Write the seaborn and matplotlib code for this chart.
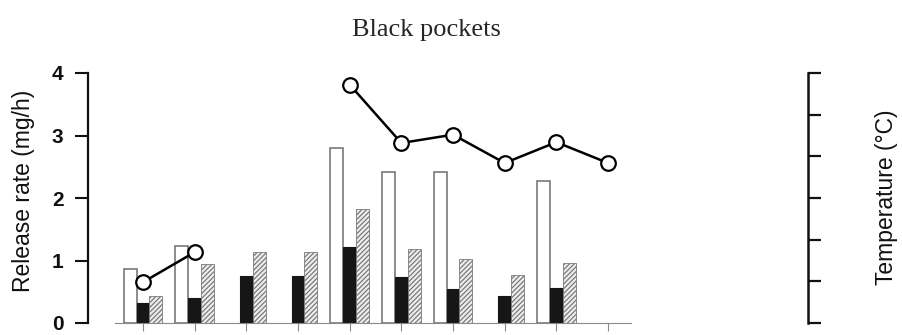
import numpy as np
import pandas as pd
import matplotlib
matplotlib.use("Agg")
import matplotlib.pyplot as plt
import seaborn as sns

nan = np.nan

# Sampling occasions along the x axis
occasions = list(range(1, 11))

# Release rate (mg/h) for the three bar series
open_rate = [0.86, 1.23, nan, nan, 2.80, 2.42, 2.42, nan, 2.27, nan]
solid_rate = [0.32, 0.40, 0.75, 0.75, 1.22, 0.74, 0.54, 0.43, 0.56, nan]
hatched_rate = [0.43, 0.94, 1.13, 1.13, 1.82, 1.18, 1.02, 0.77, 0.96, nan]

# Air temperature (°C) on the right axis
temperature = [4.9, 8.5, nan, nan, 28.6, 21.6, 22.6, 19.2, 21.7, 19.2]

y_ticks = [0, 1, 2, 3, 4]
temp_ticks = [0, 5, 10, 15, 20, 25, 30]

series_names = ["open", "solid", "hatched"]

sns.set_style("ticks")
plt.rcParams["font.family"] = ["Liberation Sans", "DejaVu Sans"]
plt.rcParams["hatch.linewidth"] = 0.9

rows = []
for name, vals in zip(series_names, [open_rate, solid_rate, hatched_rate]):
    for occ, v in zip(occasions, vals):
        if not np.isnan(v):
            rows.append({"occasion": occ, "series": name, "rate": v})
bars = pd.DataFrame(rows)

fig = plt.figure(figsize=(9.02, 3.35), dpi=100)
ax = fig.add_axes([115 / 902, 12 / 335, (808 - 115) / 902, 250 / 335])

sns.barplot(data=bars, x="occasion", y="rate", hue="series",
            order=occasions, hue_order=series_names, width=0.75,
            errorbar=None, legend=False, ax=ax)

styles = {
    "open": dict(facecolor="white", edgecolor="#6e6e6e", lw=1.1, hatch=None),
    "solid": dict(facecolor="#161616", edgecolor="#161616", lw=0.8, hatch=None),
    "hatched": dict(facecolor="#eeeeee", edgecolor="#7a7a7a", lw=0.6, hatch="///////"),
}
for name, cont in zip(series_names, ax.containers):
    st = styles[name]
    for p in cont:
        p.set_facecolor(st["facecolor"])
        p.set_edgecolor(st["edgecolor"])
        p.set_linewidth(st["lw"])
        if st["hatch"]:
            p.set_hatch(st["hatch"])

# Temperature curve on a twin axis; gaps split it into segments
ax2 = ax.twinx()
temp_rows = []
seg = 0
prev_nan = True
for i, t in enumerate(temperature):
    if np.isnan(t):
        prev_nan = True
        continue
    if prev_nan:
        seg += 1
        prev_nan = False
    temp_rows.append({"pos": i, "temp": t, "segment": seg})
temps = pd.DataFrame(temp_rows)
sns.lineplot(data=temps, x="pos", y="temp", units="segment", estimator=None,
             color="black", lw=1.8, marker="o", markersize=10.5,
             markerfacecolor="white", markeredgecolor="black",
             markeredgewidth=1.6, legend=False, ax=ax2)

xl = (-(143 - 115) / 51.67, (808 - 143) / 51.67)
ax.set_xlim(*xl)
ax2.set_xlim(*xl)

ax.set_ylim(0, 4)
ax.set_yticks(y_ticks)
ax.set_xticks(range(len(occasions)))
ax.set_xticklabels([])
ax.set_xlabel("")
ax.set_ylabel("")

for s in ["top", "right"]:
    ax.spines[s].set_visible(False)
ax.spines["left"].set_position(("outward", 19.5))
ax.spines["left"].set_linewidth(1.6)
ax.spines["left"].set_color("#111111")
ax.spines["bottom"].set_linewidth(0.8)
ax.spines["bottom"].set_color("#8a8a8a")
ax.spines["bottom"].set_bounds(xl[0], len(occasions) - 0.55)
ax.tick_params(axis="y", direction="out", length=9.5, width=1.5, pad=8,
               color="#111111", labelcolor="#111111", labelsize=15)
ax.tick_params(axis="x", direction="out", length=6, width=0.8, color="#8a8a8a")
for lab in ax.get_yticklabels():
    lab.set_fontweight("bold")

ax2.set_ylim(0, 30)
ax2.set_yticks(temp_ticks)
ax2.set_yticklabels([])
ax2.set_ylabel("")
for s in ["top", "left", "bottom"]:
    ax2.spines[s].set_visible(False)
ax2.spines["right"].set_linewidth(1.8)
ax2.spines["right"].set_color("#111111")
ax2.tick_params(axis="y", direction="out", length=9, width=1.6, color="#111111")

fig.text(426 / 902, 1 - 30 / 335, "Black pockets", ha="center", va="center",
         fontsize=19, family=["Liberation Serif", "DejaVu Serif"])
fig.text(24 / 902, 1 - 191 / 335, "Release rate (mg/h)", rotation=90,
         ha="center", va="center", fontsize=16.5, color="#111111")
fig.text(887 / 902, 1 - 197 / 335, "Temperature (°C)", rotation=90,
         ha="center", va="center", fontsize=16.5, color="#111111")

fig.savefig("out.png", dpi=100)
